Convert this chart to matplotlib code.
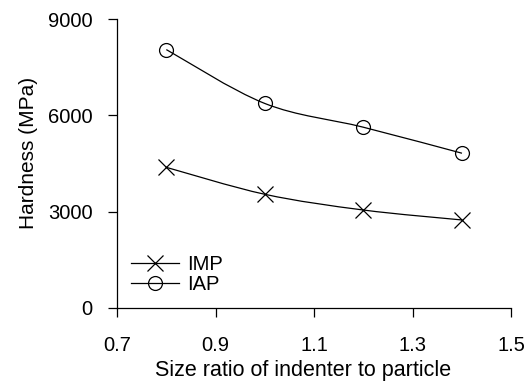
import numpy as np
import matplotlib
matplotlib.use("Agg")
import matplotlib.pyplot as plt
from matplotlib.path import Path
from matplotlib.patches import PathPatch
from matplotlib.lines import Line2D

plt.rcParams['font.family'] = ['Liberation Sans', 'DejaVu Sans']

ratio = [0.8, 1.0, 1.2, 1.4]
imp = [4380, 3540, 3050, 2740]
iap = [8050, 6370, 5630, 4820]
x_ticks = [0.7, 0.9, 1.1, 1.3, 1.5]
y_ticks = [0, 3000, 6000, 9000]


def smooth_path(xs, ys):
    # excel-style smoothed line: catmull-rom segments as cubic beziers
    p = np.column_stack([xs, ys]).astype(float)
    ext = np.vstack([p[0], p, p[-1]])
    verts = [p[0]]
    codes = [Path.MOVETO]
    for i in range(len(p) - 1):
        p0, p1, p2, p3 = ext[i], ext[i + 1], ext[i + 2], ext[i + 3]
        c1 = p1 + (p2 - p0) / 6.0
        c2 = p2 - (p3 - p1) / 6.0
        verts += [c1, c2, p2]
        codes += [Path.CURVE4] * 3
    return Path(verts, codes)


fig = plt.figure(figsize=(5.32, 3.82), dpi=100)
ax = fig.add_axes([0.22, 0.194, 0.741, 0.756])

for ys in (imp, iap):
    ax.add_patch(PathPatch(smooth_path(ratio, ys), fill=False, ec='black', lw=0.9))

ax.plot(ratio, imp, ls='none', marker='x', ms=11, mew=0.9, color='black')
ax.plot(ratio, iap, ls='none', marker='o', ms=10, mew=0.9, mfc='none', mec='black')

ax.set_xlim(0.7, 1.5)
ax.set_ylim(0, 9000)
ax.set_xticks(x_ticks)
ax.set_xticklabels([str(t) for t in x_ticks])
ax.set_yticks(y_ticks)
ax.spines['top'].set_visible(False)
ax.spines['right'].set_visible(False)
for s in ('left', 'bottom'):
    ax.spines[s].set_linewidth(0.9)
ax.tick_params(direction='out', length=6.5, width=0.9, labelsize=14.5)
ax.tick_params(axis='x', pad=14)
ax.tick_params(axis='y', pad=11)

ax.set_xlabel('Size ratio of indenter to particle', fontsize=15.5, labelpad=3)
ax.set_ylabel('Hardness (MPa)', fontsize=15, labelpad=7)
ax.xaxis.label.set_x(0.473)
ax.yaxis.label.set_y(0.536)

handles = [Line2D([], [], color='black', lw=0.9, marker='x', ms=11, mew=0.9),
           Line2D([], [], color='black', lw=0.9, marker='o', ms=10, mew=0.9, mfc='none')]
ax.legend(handles, ['IMP', 'IAP'], loc='lower left', bbox_to_anchor=(0.0, 0.0),
          frameon=False, fontsize=14.5, handlelength=2.4, handletextpad=0.4,
          labelspacing=0.05, numpoints=1, borderaxespad=0.3)

fig.savefig('out.png', dpi=100)
